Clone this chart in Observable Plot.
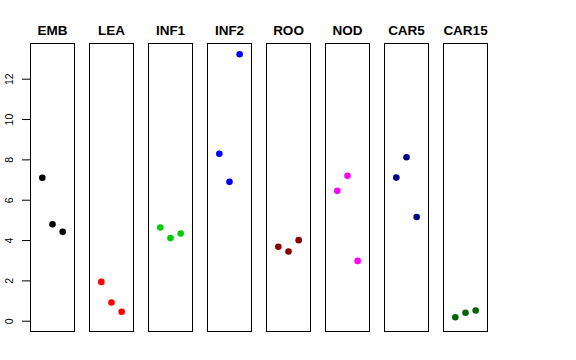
<!DOCTYPE html>
<html>
<head>
<meta charset="utf-8">
<script src="https://cdn.jsdelivr.net/npm/d3@7"></script>
<script src="https://cdn.jsdelivr.net/npm/@observablehq/plot@0.6"></script>
<style>
  html, body { margin: 0; padding: 0; background: #fff; }
  svg { display: block; }
</style>
</head>
<body>
<div id="chart"></div>
<script>
const categories = ["EMB", "LEA", "INF1", "INF2", "ROO", "NOD", "CAR5", "CAR15"];
const colors = ["#000000", "#FF0000", "#00CD00", "#0000FF", "#8B0000", "#FF00FF", "#00008B", "#006400"];
const EMB = [7.11, 4.81, 4.43];
const LEA = [1.95, 0.93, 0.47];
const INF1 = [4.65, 4.12, 4.35];
const INF2 = [8.30, 6.91, 13.24];
const ROO = [3.69, 3.46, 4.02];
const NOD = [6.47, 7.21, 2.99];
const CAR5 = [7.12, 8.13, 5.17];
const CAR15 = [0.20, 0.42, 0.53];
const yTicks = [0, 2, 4, 6, 8, 10, 12];

const series = [EMB, LEA, INF1, INF2, ROO, NOD, CAR5, CAR15];
const rows = [];
categories.forEach((c, i) => {
  series[i].forEach((v, j) => rows.push({group: c, idx: j + 1, value: v, color: colors[i]}));
});

const chart = Plot.plot({
  width: 576,
  height: 360,
  marginLeft: 29,
  marginRight: 88,
  marginTop: 43,
  marginBottom: 29,
  style: {fontFamily: "Liberation Sans, Arial, sans-serif", background: "#fff"},
  fx: {domain: categories, paddingInner: 0.25, paddingOuter: 0, axis: null},
  x: {domain: [-0.16, 4.16], axis: null},
  y: {domain: [-0.51, 13.77], axis: null},
  marks: [
    Plot.frame({stroke: "#000", strokeWidth: 1}),
    Plot.axisY({ticks: yTicks, tickSize: 8, tickPadding: 10, tickRotate: -90, fontSize: 10.5, fill: "#000", stroke: "#000", strokeOpacity: 1, label: null}),
    Plot.text(categories, {fx: d => d, text: d => d, frameAnchor: "top", lineAnchor: "bottom", dy: -9, fontWeight: "bold", fontSize: 13.5, fill: "#000"}),
    Plot.dot(rows, {fx: "group", x: "idx", y: "value", r: 3.3, fill: "color", stroke: null})
  ]
});
document.getElementById("chart").appendChild(chart);
</script>
</body>
</html>
